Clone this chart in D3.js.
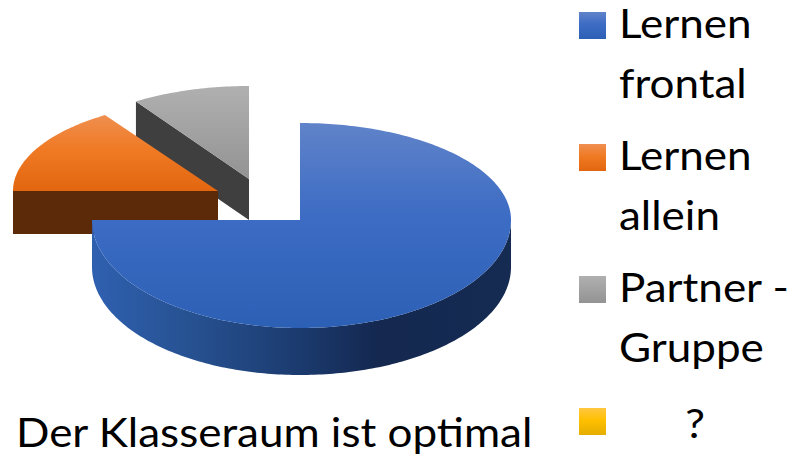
<!DOCTYPE html>
<html>
<head>
<meta charset="utf-8">
<script src="https://cdn.jsdelivr.net/npm/d3@7"></script>
<style>
  html, body { margin: 0; padding: 0; background: #fff; }
  svg { display: block; }
  text { font-family: Lato, "Open Sans", sans-serif; fill: #000; }
</style>
</head>
<body>
<svg width="792" height="455"></svg>
<script>
var categories = ["Lernen frontal", "Lernen allein", "Partner - Gruppe", "?"]
var values = [75, 15.7, 9.3, 0]
var legendLines = [["Lernen", "frontal"], ["Lernen", "allein"], ["Partner -", "Gruppe"], ["?"]]
var title = "Der Klasseraum ist optimal"

var topColors = [["#6083c9", "#3d6cc4", "#2c60b5"], ["#ef8f50", "#f07a24", "#e2660f"], ["#b0b0b0", "#a3a3a3", "#939393"], ["#ffc740", "#ffc000", "#e5ad00"]]
var sideColors = ["#5c2a09", "#3f3f3f"]

var svg = d3.select("svg")
var defs = svg.append("defs")

// pull out of the slices, relative to the blue centre
var cx = 300, cy = 220
var offsets = [[0, 0], [-82, -29], [-51, -41], [0, 0]]
var depths = [47, 43, 41, 0]
var rxLeft = [208, 205, 205, 0]
var rxRight = [211, 205, 205, 0]
var ryUp = [97, 91, 93, 0]
var ryDown = [108, 91, 93, 0]

// Lato is wider in the caps than the original font, so size it down and stretch it
var fontSize = 40, stretch = 1.1

topColors.forEach(function (c, i) {
  var grad = defs.append("linearGradient").attr("id", "top" + i)
    .attr("x1", 0).attr("y1", 0).attr("x2", 0).attr("y2", 1)
  grad.append("stop").attr("offset", "0%").attr("stop-color", c[0])
  grad.append("stop").attr("offset", "45%").attr("stop-color", c[1])
  grad.append("stop").attr("offset", "100%").attr("stop-color", c[2])
})

var rimGrad = defs.append("linearGradient").attr("id", "rim")
  .attr("x1", 0).attr("y1", 0).attr("x2", 1).attr("y2", 0)
rimGrad.append("stop").attr("offset", "0%").attr("stop-color", "#2f60b0")
rimGrad.append("stop").attr("offset", "25%").attr("stop-color", "#26508f")
rimGrad.append("stop").attr("offset", "50%").attr("stop-color", "#1b3a6e")
rimGrad.append("stop").attr("offset", "68%").attr("stop-color", "#142850")
rimGrad.append("stop").attr("offset", "100%").attr("stop-color", "#152b52")

var pie = d3.pie().sort(null).value(function (d) { return d })
var slices = pie(values)

function rimPoint(i, a, drop) {
  var c = Math.cos(a), n = Math.sin(a)
  var ry = c > 0 ? ryUp[i] : ryDown[i]
  var r = n > 0 ? rxRight[i] : rxLeft[i]
  return [cx + offsets[i][0] + r * n, cy + offsets[i][1] - ry * c + drop]
}

var line = d3.line()
var step = Math.PI / 180

function topPath(i, s) {
  var pts = [[cx + offsets[i][0], cy + offsets[i][1]]]
  d3.range(s.startAngle, s.endAngle, step).concat([s.endAngle]).forEach(function (a) {
    pts.push(rimPoint(i, a, 0))
  })
  return line(pts) + "Z"
}

// outer wall, only the part that faces the viewer
function rimPath(i, s) {
  var from = Math.max(s.startAngle, Math.PI / 2)
  var to = Math.min(s.endAngle, Math.PI * 1.5)
  var angles = d3.range(from, to, step).concat([to])
  var upper = angles.map(function (a) { return rimPoint(i, a, 0) })
  var lower = angles.slice().reverse().map(function (a) { return rimPoint(i, a, depths[i]) })
  return line(upper.concat(lower)) + "Z"
}

// cut wall of a pulled out slice
function cutPath(i, s) {
  var ox = cx + offsets[i][0], oy = cy + offsets[i][1]
  var p = rimPoint(i, s.startAngle, 0)
  return line([[ox, oy], p, [p[0], p[1] + depths[i]], [ox, oy + depths[i]]]) + "Z"
}

var g = svg.append("g")
// far slices first so the blue one lies on top
;[2, 1, 0].forEach(function (i) {
  var s = slices[i]
  if (i == 0) {
    g.append("path").attr("d", rimPath(i, s)).attr("fill", "url(#rim)")
  } else {
    g.append("path").attr("d", cutPath(i, s)).attr("fill", sideColors[i - 1])
  }
  g.append("path").attr("d", topPath(i, s)).attr("fill", "url(#top" + i + ")")
})

function label(sel, x, y) {
  return sel.append("text")
    .attr("transform", "translate(" + x + "," + y + ") scale(" + stretch + ",1)")
    .attr("font-size", fontSize)
}

var legendY = d3.scaleBand().domain(categories).range([-8, 520])
var legend = svg.append("g").selectAll("g").data(categories).enter().append("g")
  .attr("transform", function (d) { return "translate(579," + (legendY(d) + 20) + ")" })

legend.append("rect").attr("width", 27).attr("height", 27)
  .attr("fill", function (d, i) { return "url(#top" + i + ")" })

legend.each(function (d, i) {
  var item = d3.select(this)
  legendLines[i].forEach(function (t, j) {
    var single = legendLines[i].length == 1
    label(item, single ? 116 : 40, 26 + j * 60 + (single ? 4 : 0))
      .attr("text-anchor", single ? "middle" : "start")
      .text(t)
  })
})

label(svg, 16, 447).text(title)
</script>
</body>
</html>
